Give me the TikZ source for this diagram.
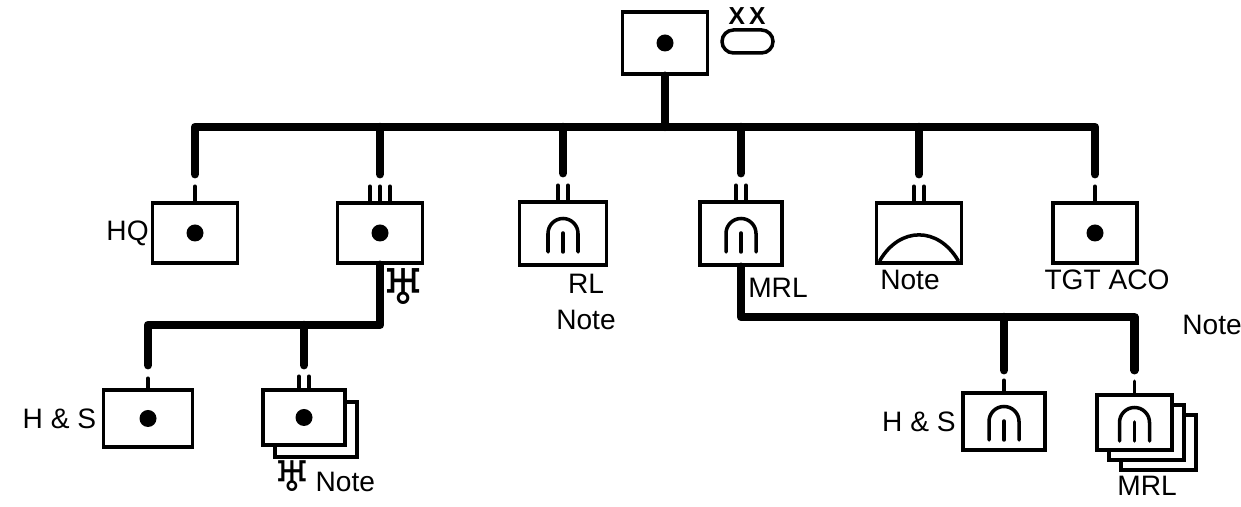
\documentclass[tikz,border=0pt]{standalone}
\usepackage{fontspec}
\setmainfont{Liberation Sans}
\newfontfamily\symfont{DejaVu Sans}
\usepackage{tikz}
\usetikzlibrary{positioning,shadows}

\newcommand{\unitdot}[1]{\fill (#1) circle (0.17);}
\newcommand{\unitarch}[1]{%
  \draw[tick] ([shift={(-0.3,-0.37)}]#1.center) -- ++(0,0.37) arc (180:0:0.3) -- ++(0,-0.37);
  \draw[tick] ([yshift=-0.37cm]#1.center) -- ++(0,0.38);}
\newcommand{\unitticks}[3]{\foreach \dx in {#2} \draw[tick] ([xshift=\dx cm]#1.north) -- ++(0,#3);}

\begin{document}
\begin{tikzpicture}[
  unit/.style={draw,line width=2pt,fill=white,minimum width=1.7cm,minimum height=1.2cm,inner sep=0pt},
  trunk/.style={line width=4.8pt,line cap=round,line join=round},
  tick/.style={line width=2pt,line cap=round},
  txt/.style={font=\fontsize{16}{21}\selectfont,inner sep=1pt,align=center},
  sym/.style={font=\symfont\fontsize{28}{28}\selectfont,inner sep=0pt}
]
\useasboundingbox (0,0) rectangle (24.82,10.14);
% Top: command post and size
\node[unit,minimum height=1.24cm] (cmd) at (13.30,9.28) {};
\node[draw,line width=2pt,rounded corners=0.23cm,minimum width=1.02cm,minimum height=0.46cm,inner sep=0pt] (size) at (14.95,9.31) {};
\node[font=\bfseries\fontsize{14}{14}\selectfont,inner sep=0pt] (sizelbl) at (14.94,9.82) {X\,X};
% Row 1: six units
\node[unit,label={[txt]left:HQ}] (hq) at (3.90,5.48) {};
\node[unit] (bn) at (7.60,5.48) {};
\node[unit,minimum width=1.74cm,minimum height=1.26cm] (rl) at (11.26,5.47) {};
\node[unit,minimum width=1.64cm,minimum height=1.26cm] (mrl) at (14.82,5.47) {};
\node[unit] (wx) at (18.38,5.48) {};
\node[unit,minimum width=1.68cm] (tgt) at (21.90,5.48) {};
% Row 2: four units
\node[unit,minimum width=1.78cm,minimum height=1.14cm,label={[txt,inner sep=3pt]left:H \& S}] (hs1) at (2.96,1.77) {};
\node[unit,minimum width=1.64cm,minimum height=1.10cm,
  copy shadow={shadow xshift=0.24cm,shadow yshift=-0.24cm,draw=black,fill=white}] (stk1) at (6.08,1.79) {};
\node[unit,minimum width=1.64cm,minimum height=1.14cm,label={[txt,inner sep=3pt]left:H \& S}] (hs2) at (20.08,1.71) {};
\node[unit,minimum width=1.50cm,minimum height=1.10cm,
  copy shadow={shadow xshift=0.48cm,shadow yshift=-0.40cm,draw=black,fill=white},
  copy shadow={shadow xshift=0.24cm,shadow yshift=-0.20cm,draw=black,fill=white}] (stk2) at (22.69,1.69) {};
% Labels
\node[txt] (rllbl) at (11.72,4.10) {RL\\Note};
\node[txt] (mrllbl) at (15.56,4.38) {MRL};
\node[txt] (wxlbl) at (18.20,4.54) {Note};
\node[txt] (tgtlbl) at (22.14,4.54) {TGT ACO};
\node[txt] (tgtnote) at (24.24,3.64) {Note};
\node[sym] (bnsym) at (8.08,4.40) {♅};
\node[txt,anchor=west] (stk1lbl) at (5.42,0.62) {{\symfont\fontsize{24}{24}\selectfont ♅}\,Note};
\node[txt] (stk2lbl) at (22.94,0.42) {MRL};
% Bus lines
\coordinate (bus) at (13.30,7.60);
\coordinate (sub1) at (7.60,3.64);
\coordinate (sub2) at (14.82,3.80);
\foreach \n in {hq,bn,rl,mrl,wx,tgt} \coordinate (\n-in) at ([yshift=0.54cm]\n.north);
\coordinate (hs1-in) at ([yshift=0.46cm]hs1.north);
\coordinate (stk1-in) at ([yshift=0.46cm]stk1.north);
\coordinate (hs2-in) at ([yshift=0.42cm]hs2.north);
\coordinate (stk2-in) at ([yshift=0.46cm]stk2.north);
\draw[trunk] (cmd.south) -- (bus);
\draw[trunk] (hq-in) |- (bus) -| (tgt-in);
\foreach \n in {bn,rl,mrl,wx} \draw[trunk] (\n-in) -- (\n-in |- bus);
\draw[trunk] (bn.south) -- (sub1) -| (hs1-in);
\draw[trunk] (stk1-in) -- (stk1-in |- sub1);
\draw[trunk] (mrl.south) -- (sub2) -| (stk2-in);
\draw[trunk] (hs2-in) -- (hs2-in |- sub2);
% Ticks
\unitticks{hq}{0}{0.30}
\unitticks{bn}{-0.2,0,0.2}{0.30}
\unitticks{rl}{-0.1,0.1}{0.30}
\unitticks{mrl}{-0.1,0.1}{0.30}
\unitticks{wx}{-0.1,0.1}{0.30}
\unitticks{tgt}{0}{0.30}
\unitticks{hs1}{0}{0.20}
\unitticks{stk1}{-0.1,0.1}{0.24}
\unitticks{hs2}{0}{0.22}
\unitticks{stk2}{0}{0.24}
% Symbols inside the units
\unitdot{cmd} \unitdot{hq} \unitdot{bn} \unitdot{tgt} \unitdot{hs1} \unitdot{stk1}
\unitarch{rl} \unitarch{mrl} \unitarch{hs2} \unitarch{stk2}
\draw[tick] ([shift={(0.1,0.08)}]wx.south west) .. controls ([shift={(0.5,0.77)}]wx.south west) and ([shift={(-0.5,0.77)}]wx.south east) .. ([shift={(-0.1,0.08)}]wx.south east);
\end{tikzpicture}
\end{document}
